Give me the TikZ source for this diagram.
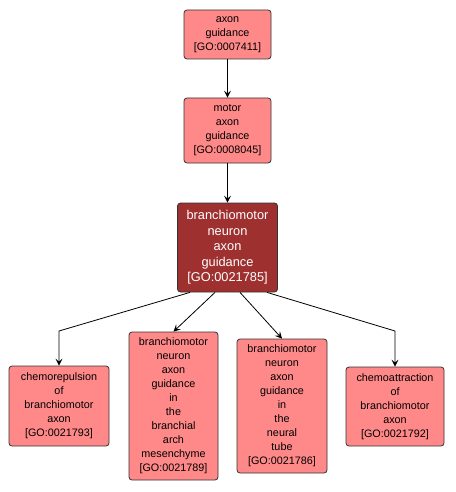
\documentclass[tikz,border=0pt]{standalone}
\usepackage{fontspec}
\setmainfont{Liberation Sans}
\usetikzlibrary{arrows.meta,calc}
\definecolor{lightgo}{RGB}{255,137,137}
\definecolor{darkgo}{RGB}{158,48,48}
\tikzset{
  gobox/.style={draw=black!80, line width=0.8pt, fill=lightgo, rounded corners=3pt,
    align=center, inner sep=0pt, font=\fontsize{10.8}{14}\selectfont},
  gomain/.style={gobox, fill=darkgo, text=white, font=\fontsize{12.8}{15.5}\selectfont},
  golink/.style={line width=0.8pt, -{Stealth[length=7pt,width=7pt,inset=3pt]}}
}
\begin{document}
\begin{tikzpicture}[x=1pt,y=-1pt]
\useasboundingbox (0,0) rectangle (455,492);
\node[gobox, minimum width=87pt, minimum height=49pt] (n1) at (227.5,34.5) {axon\\guidance\\{[GO:0007411]}};
\node[gobox, minimum width=87pt, minimum height=65pt] (n2) at (227.5,130.5) {motor\\axon\\guidance\\{[GO:0008045]}};
\node[gomain, minimum width=100pt, minimum height=89pt] (n3) at (227.5,247.5) {branchiomotor\\neuron\\axon\\guidance\\{[GO:0021785]}};
\node[gobox, minimum width=100pt, minimum height=80pt] (n4) at (59,406) {chemorepulsion\\of\\branchiomotor\\axon\\{[GO:0021793]}};
\node[gobox, minimum width=89pt, minimum height=148pt] (n5) at (173.5,406) {branchiomotor\\neuron\\axon\\guidance\\in\\the\\branchial\\arch\\mesenchyme\\{[GO:0021789]}};
\node[gobox, minimum width=90pt, minimum height=134pt] (n6) at (282,406) {branchiomotor\\neuron\\axon\\guidance\\in\\the\\neural\\tube\\{[GO:0021786]}};
\node[gobox, minimum width=98pt, minimum height=79pt] (n7) at (395,406.5) {chemoattraction\\of\\branchiomotor\\axon\\{[GO:0021792]}};
\coordinate (b4) at (59,331);
\coordinate (b7) at (395,331);
\draw[golink] (n1.south) -- (n2.north);
\draw[golink] (n2.south) -- (n3.north);
\draw[golink] ($(n3.south)+(-37.5,0)$) -- (b4) -- (n4.north);
\draw[golink] ($(n3.south)+(-12.5,0)$) -- (n5.north);
\draw[golink] ($(n3.south)+(12.5,0)$) -- (n6.north);
\draw[golink] ($(n3.south)+(39.5,0)$) -- (b7) -- (n7.north);
\end{tikzpicture}
\end{document}
